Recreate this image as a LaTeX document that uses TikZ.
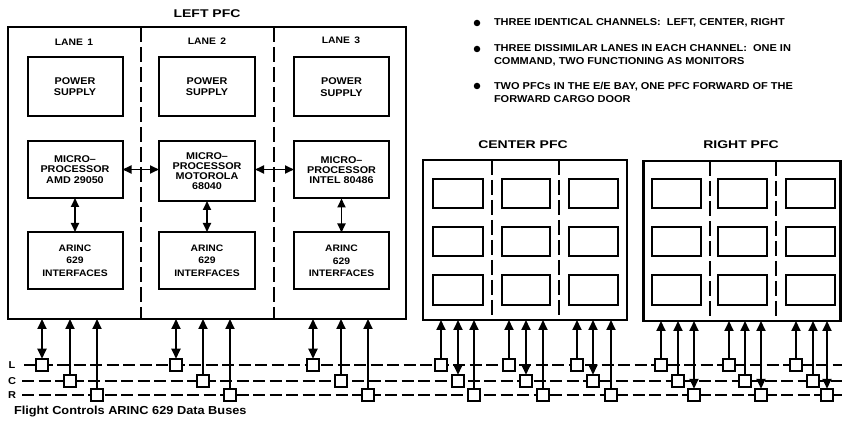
\documentclass[tikz,border=0pt]{standalone}
\usepackage{fontspec}
\setmainfont{Liberation Sans}
\newfontfamily\wideA[FakeStretch=1.1,Ligatures=TeX]{Liberation Sans}
\newfontfamily\wideB[FakeStretch=1.25,Ligatures=TeX]{Liberation Sans}
\usetikzlibrary{arrows.meta}
\newcommand\bxtext{\wideA\bfseries\fontsize{9.8}{11.3}\selectfont}
\newcommand\lanetext{\wideA\bfseries\fontsize{9.4}{11}\selectfont}
\newcommand\bultext{\wideA\bfseries\fontsize{10}{13}\selectfont}
\newcommand\ttltext{\wideB\bfseries\fontsize{11.2}{13}\selectfont}
\newcommand\captext{\wideA\bfseries\fontsize{11.6}{13}\selectfont}
\begin{document}
\begin{tikzpicture}[x=1pt,y=-1pt,
  every node/.style={inner sep=0pt, outer sep=0pt},
  outerbox/.style={draw, line width=2.6pt},
  blk/.style={draw, line width=2pt, minimum width=95pt, minimum height=57pt, align=center, font=\bxtext},
  emptyblk/.style={draw, line width=2pt, minimum width=49pt, minimum height=29pt},
  divider/.style={line width=1.4pt, dash pattern=on 15pt off 5pt},
  busline/.style={line width=1.6pt, dash pattern=on 12pt off 4.5pt},
  sq/.style={draw, fill=white, line width=2pt, minimum size=12.5pt},
  uparrow/.style={line width=1.8pt, -{Triangle[length=10pt,width=9pt]}},
  dblarrow/.style={line width=1.8pt, {Triangle[length=10pt,width=9pt]}-{Triangle[length=10pt,width=9pt]}},
  hdblarrow/.style={line width=1.8pt, {Triangle[length=9pt,width=8pt]}-{Triangle[length=9pt,width=8pt]}},
  ttl/.style={font=\ttltext},
  lane/.style={font=\lanetext},
  bul/.style={circle, fill, minimum size=6.5pt},
  bultxt/.style={font=\bultext, anchor=west, align=left},
  buslbl/.style={font=\wideA\bfseries\fontsize{10}{11}\selectfont}
]
\useasboundingbox (0,0) rectangle (843,427);

% ---------------- LEFT PFC ----------------
\node[outerbox, minimum width=398pt, minimum height=292pt] (lpfc) at (207,173) {};
\node[ttl] (lpfct) at (207,14) {LEFT PFC};
\draw[divider] (141,27) -- (141,319);
\draw[divider] (274,27) -- (274,319);
\node[lane] (lane1) at (74,42) {LANE\, 1};
\node[lane] (lane2) at (207,41) {LANE\, 2};
\node[lane] (lane3) at (341,40) {LANE\, 3};

\node[blk, minimum height=59pt] (p1) at (75,86.5) {POWER\\SUPPLY};
\node[blk, minimum height=59pt, minimum width=96pt] (p2) at (207,86.5) {POWER\\SUPPLY};
\node[blk, minimum height=59pt] (p3) at (341.5,87) {POWER\\SUPPLY};

\node[blk, font=\wideA\bfseries\fontsize{9.8}{10.2}\selectfont] (m1) at (75,169.5) {MICRO–\\PROCESSOR\\AMD 29050};
\node[blk, minimum height=60pt, minimum width=96pt, font=\wideA\bfseries\fontsize{9.8}{10.2}\selectfont] (m2) at (207,171) {MICRO–\\PROCESSOR\\MOTOROLA\\68040};
\node[blk, font=\wideA\bfseries\fontsize{9.8}{10.2}\selectfont] (m3) at (341.5,170) {MICRO–\\PROCESSOR\\INTEL 80486};

\node[blk, font=\wideA\bfseries\fontsize{9.4}{12.3}\selectfont] (a1) at (75,260.5) {ARINC\\629\\INTERFACES};
\node[blk, minimum width=96pt, font=\wideA\bfseries\fontsize{9.4}{12.3}\selectfont] (a2) at (207,260.5) {ARINC\\629\\INTERFACES};
\node[blk, font=\wideA\bfseries\fontsize{9.4}{12.3}\selectfont] (a3) at (341.5,261) {ARINC\\629\\INTERFACES};

\draw[hdblarrow] (m1.east) -- (m1.east -| m2.west);
\draw[hdblarrow] (m2.east |- m1.east) -- (m1.east -| m3.west);
\draw[hdblarrow] (m1) -- (a1);
\draw[hdblarrow] (m2) -- (a2);
\draw[hdblarrow] (m3) -- (a3);

% ---------------- CENTER PFC ----------------
\node[outerbox, minimum width=204pt, minimum height=160pt] (cpfc) at (525,240) {};
\node[ttl] (cpfct) at (523,145) {CENTER PFC};
\draw[divider] (492,160) -- (492,320);
\draw[divider] (559,160) -- (559,320);
\node[emptyblk, minimum width=50pt] (c11) at (458,193.5) {};
\node[emptyblk, minimum width=48pt] (c12) at (526,193.5) {};
\node[emptyblk] (c13) at (593.5,193.5) {};
\node[emptyblk, minimum width=50pt] (c21) at (458,241.5) {};
\node[emptyblk, minimum width=48pt] (c22) at (526,241.5) {};
\node[emptyblk] (c23) at (593.5,241.5) {};
\node[emptyblk, minimum width=50pt, minimum height=30pt] (c31) at (458,290) {};
\node[emptyblk, minimum width=48pt, minimum height=30pt] (c32) at (526,290) {};
\node[emptyblk, minimum height=30pt] (c33) at (593.5,290) {};

% ---------------- RIGHT PFC ----------------
\node[outerbox, minimum width=197pt, minimum height=160pt] (rpfc) at (742,241) {};
\node[ttl] (rpfct) at (741,145) {RIGHT PFC};
\draw[divider] (710,161) -- (710,321);
\draw[divider] (776,161) -- (776,321);
\node[emptyblk] (r11) at (676.5,194) {};
\node[emptyblk] (r12) at (742.5,194) {};
\node[emptyblk] (r13) at (810.5,194) {};
\node[emptyblk] (r21) at (676.5,242) {};
\node[emptyblk] (r22) at (742.5,242) {};
\node[emptyblk] (r23) at (810.5,242) {};
\node[emptyblk, minimum height=30pt] (r31) at (676.5,290.5) {};
\node[emptyblk, minimum height=30pt] (r32) at (742.5,290.5) {};
\node[emptyblk, minimum height=30pt] (r33) at (810.5,290.5) {};

% ---------------- BULLETS ----------------
\node[bul] (b1) at (477,23) {};
\node[bultxt] (t1) at (494,23) {THREE IDENTICAL CHANNELS:\ \ LEFT, CENTER, RIGHT};
\node[bul] (b2) at (477,49) {};
\node[bultxt, anchor=north west] (t2) at (494,44.5) {THREE DISSIMILAR LANES IN EACH CHANNEL:\ \ ONE IN\\COMMAND, TWO FUNCTIONING AS MONITORS};
\node[bul] (b3) at (477,86) {};
\node[bultxt, anchor=north west] (t3) at (494,82.5) {TWO PFCs IN THE E/E BAY, ONE PFC FORWARD OF THE\\FORWARD CARGO DOOR};

% ---------------- BUSES ----------------
\node[buslbl] (lblL) at (12,365) {L};
\node[buslbl] (lblC) at (12,381) {C};
\node[buslbl] (lblR) at (12,395) {R};
\coordinate (Ls) at (24,365); \coordinate (Le) at (842,365);
\coordinate (Cs) at (22,381); \coordinate (Ce) at (842,381);
\coordinate (Rs) at (22,395); \coordinate (Re) at (842,395);
\draw[busline] (Ls) -- (Le);
\draw[busline] (Cs) -- (Ce);
\draw[busline] (Rs) -- (Re);

\foreach \n/\x/\y in {
  s1L/42/365, s1C/70/381, s1R/97/395,
  s2L/176/365, s2C/203/381, s2R/230/395,
  s3L/313/365, s3C/341/381, s3R/368/395,
  s4L/441/365, s4C/458/381, s4R/474/395,
  s5L/509/365, s5C/526/381, s5R/543/395,
  s6L/577/365, s6C/593/381, s6R/611/395,
  s7L/661/365, s7C/678/381, s7R/694/395,
  s8L/729/365, s8C/745/381, s8R/761/395,
  s9L/796/365, s9C/813/381, s9R/827/395}
  \node[sq] (\n) at (\x,\y) {};

\foreach \n/\b/\st in {
  s1L/lpfc/dblarrow, s1C/lpfc/uparrow, s1R/lpfc/uparrow,
  s2L/lpfc/dblarrow, s2C/lpfc/uparrow, s2R/lpfc/uparrow,
  s3L/lpfc/dblarrow, s3C/lpfc/uparrow, s3R/lpfc/uparrow,
  s4L/cpfc/uparrow, s4C/cpfc/dblarrow, s4R/cpfc/uparrow,
  s5L/cpfc/uparrow, s5C/cpfc/dblarrow, s5R/cpfc/uparrow,
  s6L/cpfc/uparrow, s6C/cpfc/dblarrow, s6R/cpfc/uparrow,
  s7L/rpfc/uparrow, s7C/rpfc/uparrow, s7R/rpfc/dblarrow,
  s8L/rpfc/uparrow, s8C/rpfc/uparrow, s8R/rpfc/dblarrow,
  s9L/rpfc/uparrow, s9C/rpfc/uparrow, s9R/rpfc/dblarrow}
  \draw[\st] (\n) -- (\n |- \b.south);

\node[font=\captext, anchor=west] (cap) at (14,412) {Flight Controls ARINC 629 Data Buses};
\end{tikzpicture}
\end{document}
